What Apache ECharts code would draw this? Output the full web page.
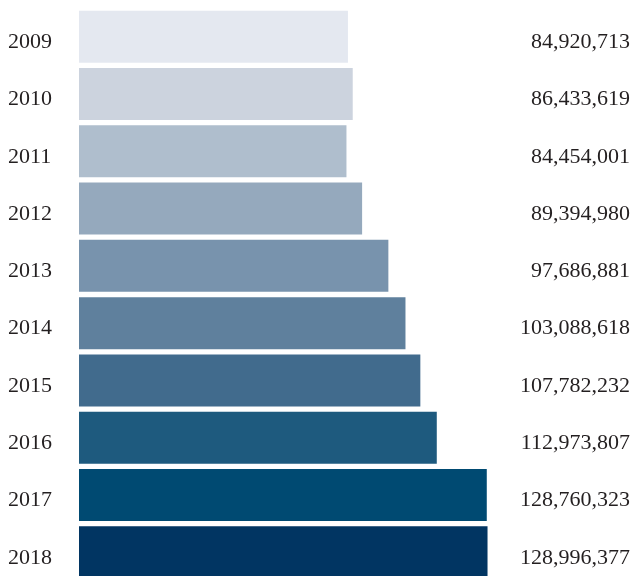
<!DOCTYPE html>
<html>
<head>
<meta charset="utf-8">
<script src="https://cdn.jsdelivr.net/npm/echarts@6/dist/echarts.min.js"></script>
<style>html,body{margin:0;padding:0;background:#fff}#c{width:634px;height:576px}</style>
</head>
<body>
<div id="c"></div>
<script>
const categories = ['2009','2010','2011','2012','2013','2014','2015','2016','2017','2018'];
const values = [84920713, 86433619, 84454001, 89394980, 97686881, 103088618, 107782232, 112973807, 128760323, 128996377];
const colors = ['#e4e8f0','#ccd3de','#afbecd','#95a9bd','#7893ad','#5f809d','#416b8d','#1e5a7e','#004a72','#013562'];

const fmt = v => v.toLocaleString('en-US');
const font = '"Liberation Serif", "DejaVu Serif", serif';
const chart = echarts.init(document.getElementById('c'));
chart.setOption({
  animation: false,
  grid: {left: 79, top: 8, width: 552, height: 573, containLabel: false, outerBoundsMode: 'none'},
  xAxis: {type: 'value', min: 0, max: 174300000, show: false},
  yAxis: [
    {type: 'category', data: categories, inverse: true, position: 'left',
     axisLine: {show: false}, axisTick: {show: false},
     axisLabel: {align: 'left', margin: 71, color: '#231f20', fontSize: 22, fontFamily: font,
       verticalAlign: 'top', lineHeight: 11}},
    {type: 'category', data: categories, inverse: true, position: 'right',
     axisLine: {show: false}, axisTick: {show: false},
     axisLabel: {align: 'right', margin: -1, color: '#231f20', fontSize: 22, fontFamily: font,
       verticalAlign: 'top', lineHeight: 11,
       formatter: (v, i) => fmt(values[i])}}
  ],
  series: [{
    type: 'bar', yAxisIndex: 0, barWidth: 52,
    data: values.map((v, i) => ({value: v, itemStyle: {color: colors[i]}}))
  }]
});
</script>
</body>
</html>
